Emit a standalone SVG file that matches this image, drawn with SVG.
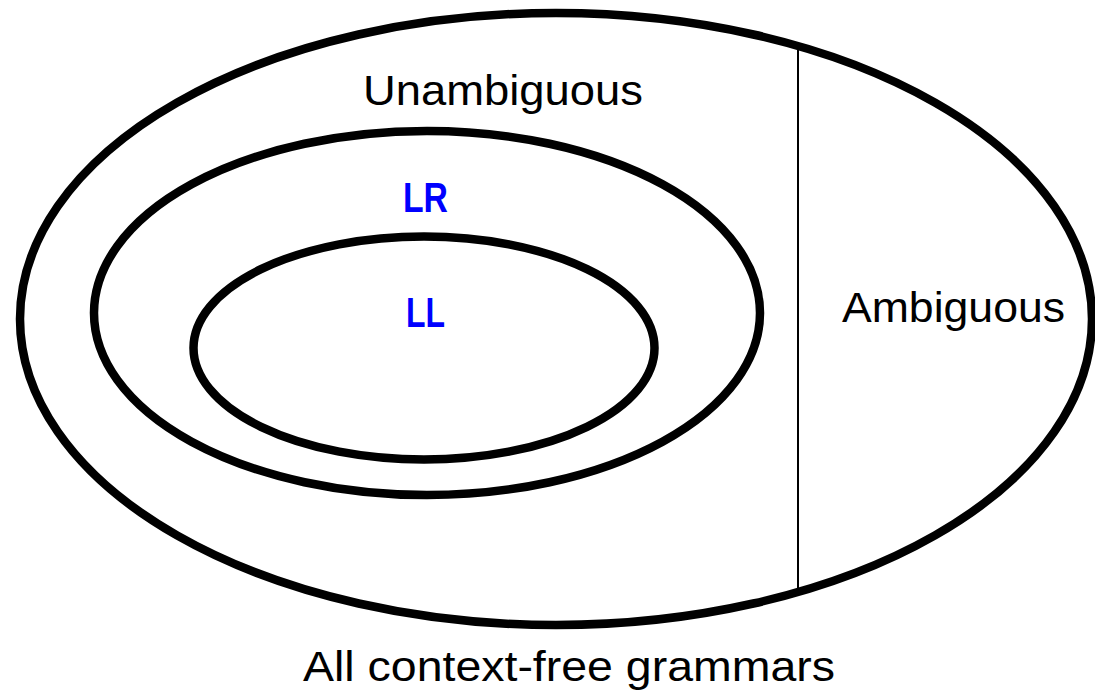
<svg xmlns="http://www.w3.org/2000/svg" width="1095" height="693" viewBox="0 0 1095 693">
<style>
.set{fill:none;stroke:#000;stroke-width:8.5}
.lbl{font-family:"Liberation Sans",Arial,sans-serif;font-size:42px;fill:#000}
.cls{font-family:"Liberation Sans",Arial,sans-serif;font-size:42px;font-weight:bold;fill:#0000ff}
</style>
<rect width="1095" height="693" fill="#fff"/>
<g id="all-cfg">
<ellipse class="set" cx="556" cy="319" rx="536" ry="306"/>
<text class="lbl" x="303" y="681" textLength="532" lengthAdjust="spacingAndGlyphs">All context-free grammars</text>
</g>
<g id="divider">
<line x1="798" y1="46" x2="798" y2="590" stroke="#000" stroke-width="2"/>
</g>
<g id="unambiguous">
<text class="lbl" x="363" y="105" textLength="280" lengthAdjust="spacingAndGlyphs">Unambiguous</text>
</g>
<g id="ambiguous">
<text class="lbl" x="842" y="322" textLength="223" lengthAdjust="spacingAndGlyphs">Ambiguous</text>
</g>
<g id="lr">
<ellipse class="set" cx="427" cy="313" rx="333" ry="182"/>
<text class="cls" x="403" y="212" textLength="45" lengthAdjust="spacingAndGlyphs">LR</text>
</g>
<g id="ll">
<ellipse class="set" cx="424" cy="348" rx="230.5" ry="111.5"/>
<text class="cls" x="406" y="327" textLength="39" lengthAdjust="spacingAndGlyphs">LL</text>
</g>
</svg>
